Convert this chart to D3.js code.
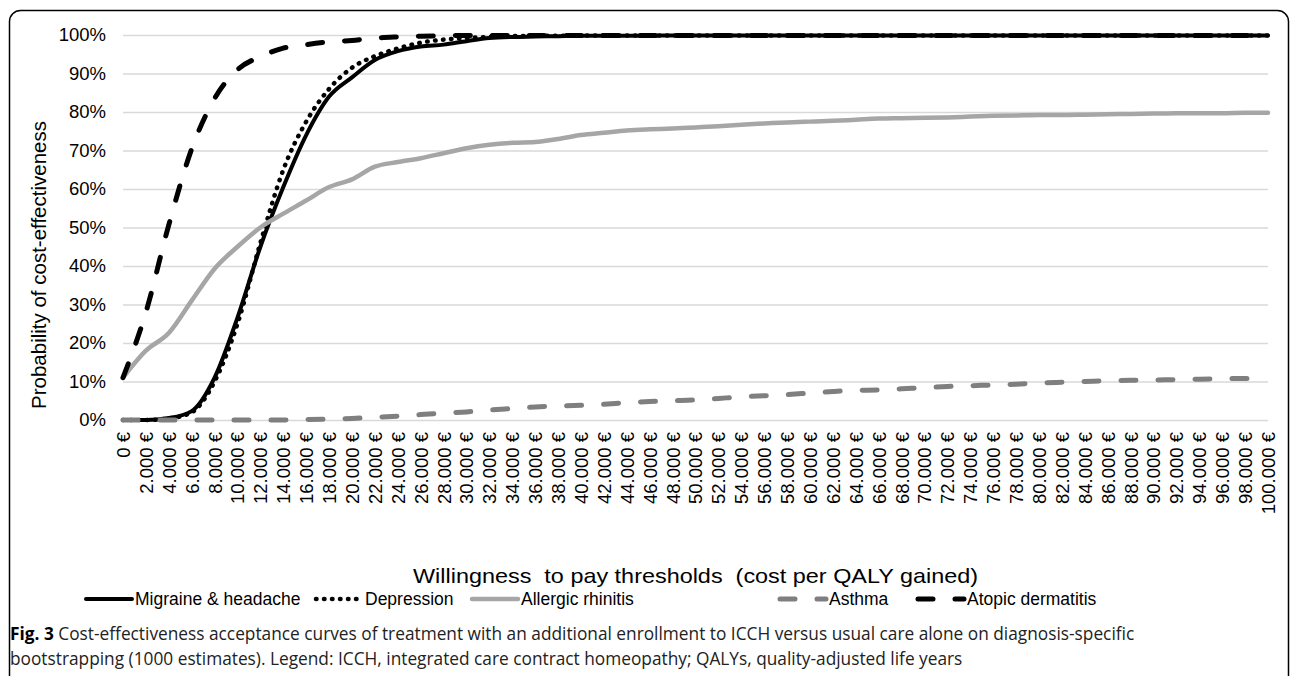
<!DOCTYPE html>
<html>
<head>
<meta charset="utf-8">
<script src="https://cdn.jsdelivr.net/npm/d3@7"></script>
<style>
  body { margin: 0; background: #fff; }
  text { font-family: "Liberation Sans", Arial, sans-serif; fill: #000; }
</style>
</head>
<body>
<div id="my_dataviz"></div>
<script>
// willingness to pay thresholds (euro per QALY)
var thresholds = [
  0, 2000, 4000, 6000, 8000, 10000, 12000, 14000, 16000, 18000,
  20000, 22000, 24000, 26000, 28000, 30000, 32000, 34000, 36000, 38000,
  40000, 42000, 44000, 46000, 48000, 50000, 52000, 54000, 56000, 58000,
  60000, 62000, 64000, 66000, 68000, 70000, 72000, 74000, 76000, 78000,
  80000, 82000, 84000, 86000, 88000, 90000, 92000, 94000, 96000, 98000,
  100000
];

var yTicks = [0, 10, 20, 30, 40, 50, 60, 70, 80, 90, 100];

// probability of cost-effectiveness in %, one value per threshold
var migraine = [
  0, 0, 0.5, 2.3, 11, 26.6, 45, 60.5, 74, 84,
  89, 93.5, 95.8, 97, 97.5, 98.4, 99.2, 99.5, 99.6, 99.7,
  99.8, 99.8, 99.8, 99.8, 99.9, 99.9, 99.9, 99.9, 99.9, 99.9,
  99.9, 99.9, 99.9, 99.9, 99.9, 99.9, 99.9, 99.9, 99.9, 99.9,
  99.9, 99.9, 99.9, 99.9, 99.9, 99.9, 99.9, 99.9, 99.9, 99.9,
  99.9
];
var depression = [
  0, 0, 0.4, 2, 10, 25, 46, 65, 77.5, 86,
  91.5, 94.5, 96.5, 98, 98.8, 99.2, 99.5, 99.7, 99.8, 99.8,
  99.9, 99.9, 99.9, 99.9, 99.9, 99.9, 99.9, 99.9, 99.9, 99.9,
  99.9, 99.9, 99.9, 99.9, 99.9, 99.9, 99.9, 99.9, 99.9, 99.9,
  99.9, 99.9, 99.9, 99.9, 99.9, 99.9, 99.9, 99.9, 99.9, 99.9,
  99.9
];
var allergicRhinitis = [
  11, 18, 22.6, 31, 39.3, 45, 50, 53.6, 57, 60.5,
  62.5, 65.8, 67, 68, 69.3, 70.6, 71.5, 72, 72.2, 73,
  74, 74.6, 75.2, 75.5, 75.7, 76, 76.3, 76.7, 77, 77.3,
  77.5, 77.7, 78, 78.3, 78.4, 78.5, 78.6, 78.8, 79, 79.1,
  79.2, 79.2, 79.3, 79.4, 79.5, 79.6, 79.7, 79.7, 79.7, 79.8,
  79.8
];
var asthma = [
  0, 0, 0, 0, 0, 0, 0, 0, 0.1, 0.2,
  0.4, 0.7, 1.0, 1.4, 1.8, 2.1, 2.6, 3.0, 3.4, 3.6,
  3.8, 4.1, 4.5, 4.8, 5.0, 5.2, 5.6, 6.0, 6.3, 6.6,
  7.0, 7.4, 7.7, 7.8, 8.1, 8.4, 8.7, 8.9, 9.1, 9.3,
  9.6, 9.8, 10.0, 10.2, 10.3, 10.4, 10.5, 10.6, 10.7, 10.8,
  10.8
];
var atopicDermatitis = [
  11, 28, 50.7, 70.4, 83.5, 91, 94.4, 96.6, 97.5, 98.2,
  98.6, 99.2, 99.5, 99.7, 99.8, 99.9, 99.9, 99.9, 99.9, 99.9,
  99.9, 99.9, 99.9, 99.9, 99.9, 99.9, 99.9, 99.9, 99.9, 99.9,
  99.9, 99.9, 99.9, 99.9, 99.9, 99.9, 99.9, 99.9, 99.9, 99.9,
  99.9, 99.9, 99.9, 99.9, 99.9, 99.9, 99.9, 99.9, 99.9, 99.9,
  99.9
];

var seriesNames = ["Migraine & headache", "Depression", "Allergic rhinitis", "Asthma", "Atopic dermatitis"];
var seriesValues = [migraine, depression, allergicRhinitis, asthma, atopicDermatitis];

// line styles per series
var styles = [
  { color: "#000", width: 4, dash: null, cap: "round" },
  { color: "#000", width: 4.5, dash: "0.5,7.5", cap: "round" },
  { color: "#a6a6a6", width: 4.5, dash: null, cap: "round" },
  { color: "#7f7f7f", width: 5, dash: "15,22", cap: "round" },
  { color: "#000", width: 5, dash: "15,22", cap: "round" }
];

var margin = { top: 35, right: 22, bottom: 256, left: 123 },
  width = 1290 - margin.left - margin.right,
  height = 676 - margin.top - margin.bottom;

var svg = d3
  .select("#my_dataviz")
  .append("svg")
  .attr("width", 1290)
  .attr("height", 676);

// rounded frame around the figure
svg
  .append("rect")
  .attr("x", 9.5)
  .attr("y", 10.5)
  .attr("width", 1279)
  .attr("height", 700)
  .attr("rx", 11)
  .attr("fill", "none")
  .attr("stroke", "#000")
  .attr("stroke-width", 1.5);

var g = svg
  .append("g")
  .attr("transform", "translate(" + margin.left + "," + margin.top + ")");

var x = d3.scaleLinear().domain([0, 100000]).range([0, width]);
var y = d3.scaleLinear().domain([0, 100]).range([height, 0]);

// gridlines
var grid = g
  .append("g")
  .call(d3.axisLeft(y).tickValues(yTicks).tickSize(-width).tickFormat(""));
grid.select(".domain").remove();
grid.selectAll("line").attr("stroke", "#d9d9d9").attr("stroke-width", 1.5);

// y axis labels
var yAxis = g
  .append("g")
  .call(d3.axisLeft(y).tickValues(yTicks).tickSize(0).tickPadding(17).tickFormat(function (d) {
    return d + "%";
  }));
yAxis.select(".domain").remove();
yAxis.selectAll("text").style("font-size", "18.5px").style("font-family", "Liberation Sans, Arial, sans-serif");

// x axis labels, rotated
var euro = d3.formatLocale({ decimal: ",", thousands: ".", grouping: [3], currency: ["", " €"] });
var xAxis = g
  .append("g")
  .attr("transform", "translate(0," + height + ")")
  .call(d3.axisBottom(x).tickValues(thresholds).tickSize(0).tickFormat(euro.format("$,")));
xAxis.select(".domain").remove();
xAxis
  .selectAll("text")
  .attr("transform", "rotate(-90)")
  .attr("x", -12)
  .attr("y", 0)
  .attr("dy", "0.35em")
  .style("text-anchor", "end")
  .style("font-size", "18.5px")
  .style("font-family", "Liberation Sans, Arial, sans-serif");

// curves
var line = d3
  .line()
  .x(function (d, i) { return x(thresholds[i]); })
  .y(function (d) { return y(d); })
  .curve(d3.curveMonotoneX);

seriesValues.forEach(function (vals, k) {
  var s = styles[k];
  g.append("path")
    .datum(vals)
    .attr("fill", "none")
    .attr("stroke", s.color)
    .attr("stroke-width", s.width)
    .attr("stroke-linecap", s.cap)
    .attr("stroke-linejoin", "round")
    .attr("stroke-dasharray", s.dash)
    .attr("d", line);
});

// axis titles
svg
  .append("text")
  .attr("transform", "translate(46,265) rotate(-90)")
  .attr("text-anchor", "middle")
  .style("font-size", "20.5px")
  .text("Probability of cost-effectiveness");

svg
  .append("text")
  .attr("x", margin.left + width / 2)
  .attr("y", 583)
  .attr("text-anchor", "middle")
  .attr("textLength", 565)
  .attr("lengthAdjust", "spacingAndGlyphs")
  .style("font-size", "21px")
  .style("white-space", "pre")
  .text("Willingness  to pay thresholds  (cost per QALY gained)");

// legend
var legendX = [84, 314, 470, 778, 916];
var legend = svg.append("g").attr("transform", "translate(0,599)");
seriesNames.forEach(function (name, k) {
  var s = styles[k];
  var item = legend.append("g").attr("transform", "translate(" + legendX[k] + ",0)");
  item
    .append("line")
    .attr("x1", 2)
    .attr("x2", 48)
    .attr("y1", 0)
    .attr("y2", 0)
    .attr("stroke", s.color)
    .attr("stroke-width", s.width)
    .attr("stroke-linecap", s.cap)
    .attr("stroke-dasharray", s.dash);
  item
    .append("text")
    .attr("x", 51)
    .attr("dy", "0.35em")
    .style("font-size", "17.5px")
    .text(name);
});

// caption
var caption = svg
  .append("text")
  .attr("x", 10)
  .attr("y", 640)
  .style("font-family", "'Open Sans', sans-serif")
  .style("font-size", "17.3px");
caption.append("tspan").style("font-weight", "bold").text("Fig. 3");
caption
  .append("tspan")
  .style("fill", "#222")
  .text(" Cost-effectiveness acceptance curves of treatment with an additional enrollment to ICCH versus usual care alone on diagnosis-specific");
svg
  .append("text")
  .attr("x", 10)
  .attr("y", 665)
  .style("font-family", "'Open Sans', sans-serif")
  .style("font-size", "17.3px")
  .style("fill", "#222")
  .text("bootstrapping (1000 estimates). Legend: ICCH, integrated care contract homeopathy; QALYs, quality-adjusted life years");
</script>
</body>
</html>
